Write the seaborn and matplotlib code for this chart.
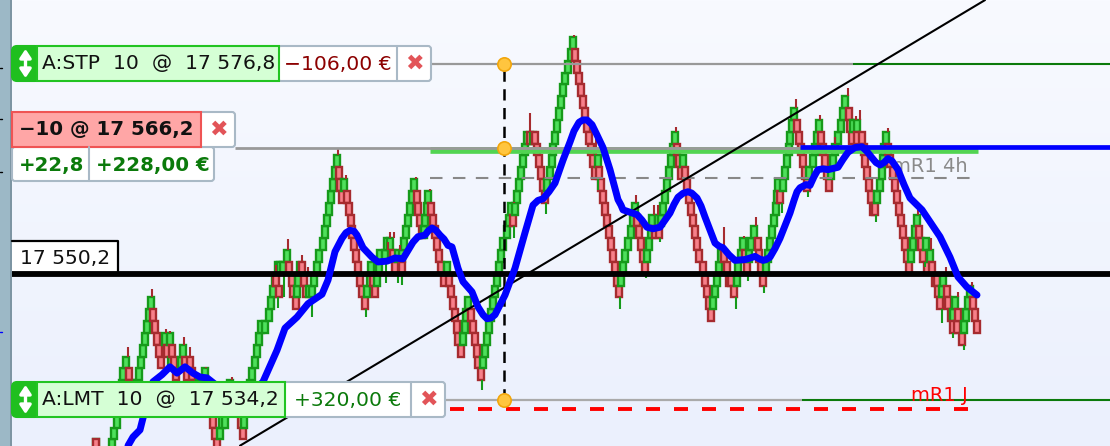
import numpy as np
import pandas as pd
import matplotlib
matplotlib.use("Agg")
import matplotlib.pyplot as plt
from matplotlib.patches import FancyBboxPatch, Rectangle
import seaborn as sns

# ---------- data ----------
BRICK_SIZE = 1.5
TOP_LEVEL = 17580.2

up_time = [96,112,114,117,119,121,122,123,126,133,135,137,139,141,143,145,147,149,151,165,170,171,181,183,199,202,205,
           220,222,225,227,229,230,244,246,248,250,252,255,257,259,261,265,269,271,273,275,278,280,283,287,297,298,300,
           309,312,314,317,319,323,325,327,329,331,333,335,337,344,367,370,371,377,379,380,385,387,390,398,402,404,406,
           408,410,412,414,424,425,427,428,447,463,465,466,468,483,485,487,489,491,493,495,497,499,501,503,507,509,511,
           515,517,519,521,523,525,527,533,547,550,552,553,555,557,559,561,563,565,568,571,573,598,621,623,625,628,631,
           633,635,647,649,651,652,658,661,663,665,667,669,671,673,675,683,713,715,717,719,721,737,738,741,743,749,751,
           754,766,768,770,772,774,776,777,778,783,785,787,789,790,792,794,809,813,815,817,819,831,833,835,838,841,843,
           845,853,857,877,880,882,883,884,886,911,913,915,917,926,930,942,943,953,955,964,966,968,970]
up_row = [34,34,33,32,31,30,29,28,27,31,30,29,28,27,26,25,24,23,22,25,25,27,27,26,29,29,28,
          33,32,32,31,30,29,32,31,30,29,28,27,26,25,24,24,23,22,21,20,19,19,19,18,21,20,19,
          21,21,20,19,18,17,16,15,14,13,12,11,10,12,21,20,19,20,19,18,18,17,17,18,18,17,16,
          15,14,13,12,16,15,14,13,19,25,24,23,22,27,26,25,24,23,22,21,20,19,18,17,16,15,14,
          14,13,12,11,10,9,8,8,12,11,10,9,8,7,6,5,4,3,2,1,0,10,20,19,18,17,16,
          15,14,18,17,16,15,15,15,14,13,12,11,10,9,8,10,22,21,20,19,18,20,19,18,17,18,17,
          16,19,18,17,16,15,14,13,12,12,11,10,9,8,7,6,11,10,9,8,7,11,10,9,8,7,6,
          5,7,7,13,12,11,10,9,8,18,17,16,15,17,18,21,20,23,22,24,23,22,21]

down_time = [96,129,131,133,135,153,155,157,159,161,167,172,174,176,185,187,190,192,194,207,209,211,213,215,217,
             234,237,239,241,243,276,279,289,292,293,296,302,304,306,339,340,342,347,349,351,352,354,356,358,360,362,365,
             373,375,393,395,402,417,418,420,422,431,433,435,437,439,441,444,449,451,453,455,457,458,461,471,473,475,477,
             478,481,513,530,535,537,539,541,543,545,575,577,579,581,583,585,587,589,591,593,595,599,601,603,605,607,609,
             611,613,615,617,619,637,639,641,643,645,655,659,677,679,681,685,687,689,691,693,695,697,699,703,705,707,709,
             711,724,727,729,731,734,745,747,758,759,761,763,780,797,799,801,803,805,807,821,823,825,827,829,849,850,852,
             857,862,864,865,867,869,871,873,875,888,890,893,895,897,899,901,903,905,907,909,919,921,923,927,932,935,937,
             938,940,947,948,951,953,957,958,962,973,975,977]
down_row = [34,28,29,30,31,23,24,25,26,27,26,26,27,28,27,28,27,28,29,29,30,31,32,33,34,
            30,31,31,32,33,20,21,19,20,21,22,19,20,21,11,12,13,13,14,15,16,17,18,19,20,21,22,
            20,21,18,19,19,13,14,15,16,14,15,16,17,18,19,20,20,21,22,23,24,25,26,23,24,25,26,
            27,28,15,8,8,9,10,11,12,13,1,2,3,4,5,6,7,8,9,10,11,11,12,13,14,15,16,
            17,18,19,20,21,15,16,17,18,19,16,16,9,10,11,11,12,13,14,15,16,17,18,19,20,21,22,
            23,18,19,20,20,21,18,19,17,18,19,20,13,7,8,9,10,11,12,8,9,10,11,12,6,7,8,
            8,8,9,10,11,12,13,14,14,9,10,11,12,13,14,15,16,17,18,19,16,17,18,19,19,20,20,
            21,22,21,22,23,24,24,23,25,22,23,24]

red_wick_time = [128,152,166,170,184,190,206,232,276,288,302,308,338,346,388,390,394,400,416,430,514,530,574,596,636,
                 654,658,676,724,744,756,796,820,835,848,856,860,888,918,931,946,958,972]
red_wick_high = [17540.9,17548.3,17543.2,17542.9,17542.2,17540.9,17538.4,17537.1,17551.3,17554.6,17552.6,17551.1,
                 17566.0,17562.7,17554.2,17555.5,17555.5,17553.8,17562.5,17561.0,17559.3,17570.6,17580.5,17568.7,
                 17560.2,17558.9,17558.9,17568.8,17556.1,17555.0,17557.4,17572.4,17570.3,17567.5,17573.8,17570.2,
                 17571.0,17568.7,17558.3,17554.7,17551.1,17547.9,17549.2]

green_wick_time = [200,278,284,312,366,386,398,402,482,514,546,598,620,646,660,736,748,764,782,808,876,925,942,953,964]
green_wick_low = [17531.9,17545.9,17547.2,17544.7,17544.7,17549.0,17549.0,17548.8,17535.5,17554.7,17557.8,17560.8,
                  17545.7,17549.7,17554.2,17545.7,17549.3,17547.8,17557.9,17559.9,17556.8,17551.1,17544.0,17542.1,17540.5]

ma_time = [128,133,140,143,153,162,170,177,185,193,200,207,212,225,240,252,263,277,285,297,308,322,328,335,342,346,350,354,357,
           363,372,378,387,395,403,413,418,425,428,432,436,440,444,448,452,458,463,472,478,483,487,491,495,505,515,525,533,538,543,
           549,555,563,567,570,574,579,583,587,592,597,603,610,614,618,621,623,630,637,642,647,653,660,665,670,674,678,683,688,692,
           697,701,705,715,719,723,729,735,745,755,759,763,766,770,775,780,785,790,794,797,800,803,806,810,814,818,823,828,
           838,843,848,855,862,867,872,876,880,884,888,892,898,904,910,922,932,940,950,958,967,977]
ma_price = [17528.4,17529.5,17530.4,17531.9,17536.5,17537.4,17538.4,17537.6,17538.4,17537.6,17537.1,17537.0,17536.5,
            17535.2,17534.8,17535.2,17536.5,17540.5,17543.3,17544.7,17546.4,17547.6,17549.4,17553.0,17554.7,17555.4,17555.7,17555.6,
            17555.1,17553.5,17552.3,17551.7,17551.8,17552.2,17552.1,17554.2,17554.9,17555.1,17555.6,17556.0,17555.7,17555.1,17554.6,17553.8,
            17553.6,17550.9,17549.2,17547.9,17546.0,17545.0,17544.5,17544.6,17545.0,17547.5,17550.9,17555.4,17558.9,17559.5,17559.7,
            17560.6,17561.7,17564.6,17565.9,17566.9,17568.3,17569.4,17569.7,17569.7,17569.1,17567.8,17566.2,17563.4,17561.5,17559.6,
            17558.9,17558.3,17558.0,17557.7,17557.0,17556.1,17555.9,17556.1,17557.0,17557.9,17559.0,17559.9,17560.4,17560.6,17560.4,
            17559.8,17558.8,17557.4,17554.1,17553.7,17553.5,17552.6,17551.9,17552.0,17552.4,17552.1,17551.9,17552.0,17552.3,17553.4,
            17554.7,17556.3,17557.9,17559.5,17560.6,17561.1,17561.3,17561.5,17561.4,17562.5,17563.4,17563.5,17563.4,
            17563.7,17564.7,17565.6,17566.2,17566.3,17565.7,17564.9,17564.3,17564.0,17564.3,17564.8,17564.5,17563.4,17561.5,17559.8,
            17558.3,17556.4,17554.9,17552.3,17549.8,17548.5,17547.5]

stop_price, entry_price, last_price, limit_price = 17576.8, 17566.2, 17550.2, 17534.2
band_price, level_4h, level_day = 17565.9, 17562.3, 17533.1
trend_time, trend_price = [240, 985], [17528.4, 17584.9]

stop_text, stop_pnl = "A:STP  10  @  17 576,8", "−106,00 €"
entry_text, entry_pts, entry_pnl = "−10 @ 17 566,2", "+22,8", "+228,00 €"
limit_text, limit_pnl = "A:LMT  10  @  17 534,2", "+320,00 €"
last_text, label_4h, label_day = "17 550,2", "mR1 4h", "mR1 J"

# ---------- figure ----------
sns.set_theme(style="white")
plt.rcParams["font.family"] = ["DejaVu Sans"]
W, H = 1110, 446
fig = plt.figure(figsize=(W / 100, H / 100), dpi=100)
ax = fig.add_axes([0, 0, 1, 1])
ax.set_xlim(0, W)
ax.set_ylim(17528.36, 17584.91)
ax.set_axis_off()

# background gradient
grad = np.linspace(0, 1, 200)[:, None]
bg = np.array([0xf8, 0xfa, 0xff])[None, None, :] * (1 - grad[..., None]) + \
     np.array([0xeb, 0xf0, 0xfd])[None, None, :] * grad[..., None]
ax.imshow(bg.astype(np.uint8), extent=[0, W, 17528.36, 17584.91], aspect="auto", zorder=0,
          origin="upper")

df = pd.concat([
    pd.DataFrame({"time": up_time, "row": up_row, "up": True}),
    pd.DataFrame({"time": down_time, "row": down_row, "up": False}),
]).sort_values("time", kind="stable")
df["top"] = TOP_LEVEL - BRICK_SIZE * df["row"]
df["bottom"] = df["top"] - BRICK_SIZE

UP_FACE, UP_EDGE = "#4fe05c", "#169a1a"
DN_FACE, DN_EDGE = "#f7808a", "#a62b2f"
ax.text(930, level_4h + 1.55, label_4h, color="#8a8a8a", fontsize=14, ha="center", va="center", zorder=1)
ax.bar(df["time"], BRICK_SIZE, bottom=df["bottom"], width=6.2,
       color=[UP_FACE if u else DN_FACE for u in df["up"]],
       edgecolor=[UP_EDGE if u else DN_EDGE for u in df["up"]], linewidth=1.7, zorder=2)


def wick_anchor(t, end, upward):
    """Body edge that a wick ending at price `end` hangs from."""
    near = df[(df["time"] - t).abs() <= 4]
    if upward:
        below = near.loc[near["top"] <= end, "top"]
        return below.max() if len(below) else end - 1.2
    above = near.loc[near["bottom"] >= end, "bottom"]
    return above.min() if len(above) else end + 1.2


ax.vlines(red_wick_time, [wick_anchor(t, e, True) for t, e in zip(red_wick_time, red_wick_high)],
          red_wick_high, color="#a62b2f", lw=1.5, zorder=3)
ax.vlines(green_wick_time, green_wick_low,
          [wick_anchor(t, e, False) for t, e in zip(green_wick_time, green_wick_low)],
          color="#169a1a", lw=1.5, zorder=3)

# price levels
ax.hlines(level_4h, 430, 978, color="#888888", lw=1.5, linestyles=(0, (6, 5)), zorder=4)
ax.hlines(band_price, 430, 978, color="#52d452", lw=4.8, zorder=4)
ax.hlines(stop_price, 431, 853, color="#999999", lw=1.6, zorder=4)
ax.hlines(stop_price, 853, W, color="#0b7a0b", lw=1.5, zorder=4)
ax.hlines(entry_price, 235, 800, color="#999999", lw=2, zorder=4)
ax.hlines(limit_price, 445, 802, color="#aaaaaa", lw=1.6, zorder=4)
ax.hlines(limit_price, 802, W, color="#0b7a0b", lw=1.5, zorder=4)
ax.hlines(level_day, 450, 978, color="#ff0000", lw=2.8, linestyles=(0, (3.6, 3.6)), zorder=4)
ax.text(939, level_day + 1.65, label_day, color="#ff0000", fontsize=14, ha="center", va="center", zorder=4)
ax.hlines(last_price, 12, W, color="black", lw=4.2, zorder=5)
sns.lineplot(x=trend_time, y=trend_price, color="black", lw=1.5, ax=ax, zorder=6, legend=False)
ax.vlines(504, limit_price, stop_price, color="black", lw=1.8, linestyles=(0, (4.5, 3)), zorder=6)
ax.hlines(entry_price + 0.1, 800, W, color="#0000ff", lw=3.4, zorder=7)
sns.lineplot(x=ma_time, y=ma_price, color="#0000ff", lw=5, ax=ax, zorder=8, legend=False, errorbar=None)
ax.lines[-1].set_solid_capstyle("round")
ax.lines[-1].set_solid_joinstyle("round")
sns.scatterplot(x=[504, 504, 504], y=[stop_price, entry_price, limit_price], s=92, color="#ffc53f",
                edgecolor="#f2a60c", linewidth=1.2, ax=ax, zorder=9, legend=False)
ax.set_xlim(0, W)
ax.set_ylim(17528.36, 17584.91)
ax.set_axis_off()

# ---------- interface panels, in pixel space ----------
ui = fig.add_axes([0, 0, 1, 1], facecolor="none")
ui.set_xlim(0, W)
ui.set_ylim(H, 0)
ui.set_axis_off()

ui.add_patch(Rectangle((0, 0), 10, H, fc="#9cb8c6", ec="none"))
ui.add_patch(Rectangle((10, 0), 2, H, fc="#7d95a3", ec="none"))
for y in (68, 119, 172):
    ui.plot([0, 2], [y, y], color="black", lw=1)
ui.plot([0, 2], [332, 332], color="#0000ff", lw=1)


def box(x0, x1, y0, y1, fc, ec, lw=1.5, r=3):
    ui.add_patch(FancyBboxPatch((x0 + r, y0 + r), x1 - x0 - 2 * r, y1 - y0 - 2 * r,
                                boxstyle=f"round,pad={r},rounding_size={r}", fc=fc, ec=ec, lw=lw))


GRID = "#a9b9c6"
FS = 14.6
BOLD = 14.2


def order_label(y0, y1, x_mid, x_white, x_end, text, pnl, pnl_col):
    box(278, x_end, y0, y1, "white", GRID)
    ui.plot([x_white, x_white], [y0, y1], color=GRID, lw=1.5)
    box(12, 40, y0, y1, "#1fbf1f", "#1fbf1f", r=5)
    ui.add_patch(Rectangle((37, y0), x_mid - 37, y1 - y0, fc="#d5ffd5", ec="#22c422", lw=1.5))
    ui.annotate("", xy=(25.5, y0 + 3), xytext=(25.5, y1 - 3),
                arrowprops=dict(arrowstyle="<|-|>,head_width=0.28,head_length=0.42", color="white", lw=2.4,
                                shrinkA=0, shrinkB=0))
    ui.text(42, (y0 + y1) / 2 + 0.5, text, color="#111111", fontsize=FS, va="center", ha="left")
    ui.text((x_mid + x_white) / 2, (y0 + y1) / 2 + 0.5, pnl, color=pnl_col, fontsize=FS, va="center", ha="center")
    ui.text((x_white + x_end) / 2, (y0 + y1) / 2 + 0.5, "✖", color="#e25458", fontsize=16, va="center", ha="center")


order_label(46, 81, 279, 397, 431, stop_text, stop_pnl, "#8c0000")
order_label(382, 417, 285, 411, 445, limit_text, limit_pnl, "#0b7a0b")

# entry panel
box(12, 214, 147, 181, "white", GRID)
ui.plot([89, 89], [147, 181], color=GRID, lw=1.5)
ui.text(52, 165, entry_pts, color="#0b7a0b", fontsize=BOLD, fontweight="bold", va="center", ha="center")
ui.text(153, 165, entry_pnl, color="#0b7a0b", fontsize=BOLD, fontweight="bold", va="center", ha="center")
box(190, 235, 112, 147, "white", GRID)
ui.add_patch(Rectangle((12, 112), 189, 35, fc="#ffa6a6", ec="#ef5454", lw=1.5))
ui.text(106, 130, entry_text, color="#111111", fontsize=BOLD, fontweight="bold", va="center", ha="center")
ui.text(218, 130, "✖", color="#e25458", fontsize=16, va="center", ha="center")

# last price tag
ui.add_patch(Rectangle((12, 240), 106, 31, fc="white", ec="none"))
ui.plot([12, 118, 118], [240.5, 240.5, 271], color="black", lw=1.6)
ui.text(65, 258, last_text, color="#111111", fontsize=FS, va="center", ha="center")

fig.savefig("out.png", dpi=100)
